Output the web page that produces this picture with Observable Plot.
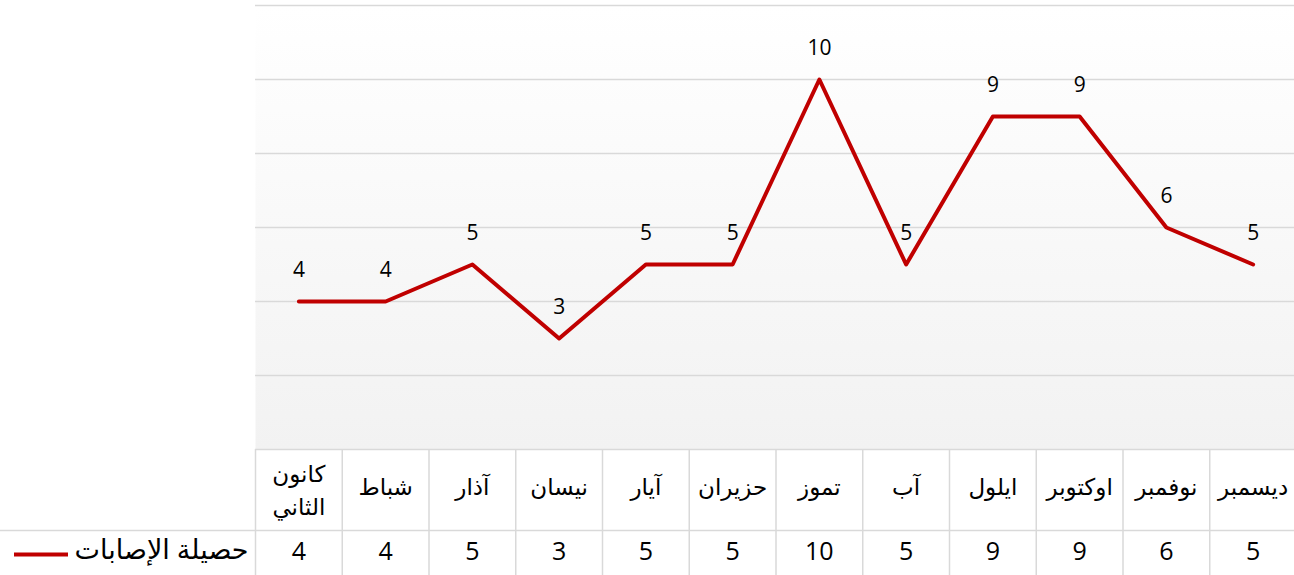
<!DOCTYPE html>
<html>
<head>
<meta charset="utf-8">
<script src="https://cdn.jsdelivr.net/npm/d3@7"></script>
<script src="https://cdn.jsdelivr.net/npm/@observablehq/plot@0.6"></script>
<style>
  html, body { margin: 0; padding: 0; background: #fff; }
  svg { display: block; }
</style>
</head>
<body>
<div id="chart"></div>
<script>
const months = ["كانون الثاني", "شباط", "آذار", "نيسان", "آيار", "حزيران", "تموز", "آب", "ايلول", "اوكتوبر", "نوفمبر", "ديسمبر"];
const values = [4, 4, 5, 3, 5, 5, 10, 5, 9, 9, 6, 5];
const seriesName = "حصيلة الإصابات";
const gridTicks = [0, 2, 4, 6, 8, 10, 12];

const data = months.map((m, i) => ({month: m, value: values[i]}));

const W = 1294, H = 575;
const xRange = [255, 1296];
const bw = (xRange[1] - xRange[0]) / months.length;
const red = "#c00000";
const border = "#d9d9d9";

const chart = Plot.plot({
  width: W,
  height: H,
  marginLeft: 255,
  marginRight: 0,
  marginTop: 5,
  marginBottom: 126,
  style: {fontFamily: "'Open Sans', 'DejaVu Sans', sans-serif", color: "#000", background: "#fff"},
  x: {type: "band", domain: months, range: xRange, padding: 0, round: false, axis: null},
  y: {domain: [0, 12], axis: null},
  marks: [
    Plot.frame({fill: "url(#bgGrad)", stroke: null}),
    Plot.ruleY(gridTicks, {stroke: border, strokeWidth: 1.5}),
    // data table borders
    Plot.ruleX(months, {x: d => d, dx: -bw / 2, insetTop: 444, insetBottom: -126, stroke: border, strokeWidth: 1.5}),
    Plot.ruleY([0], {dy: 81, insetLeft: -255, stroke: border, strokeWidth: 1.5}),
    // series line
    Plot.line(data, {x: "month", y: "value", stroke: red, strokeWidth: 4, strokeLinejoin: "round"}),
    Plot.text(data, {x: "month", y: "value", text: d => String(d.value), dy: -31, fontSize: 21, fill: "#000"}),
    // table text: category row
    Plot.text(months.filter(d => !d.includes(" ")), {x: d => d, frameAnchor: "bottom", dy: 45, fontSize: 23, fill: "#000"}),
    Plot.text(months.filter(d => d.includes(" ")), {x: d => d, text: d => d.replace(" ", "\n"), frameAnchor: "bottom", dy: 65, fontSize: 23, lineHeight: 1.43, fill: "#000"}),
    // table text: value row
    Plot.text(data, {x: "month", text: d => String(d.value), frameAnchor: "bottom", dy: 110, fontSize: 25, fill: "#000"}),
    // legend key in table
    Plot.text([seriesName], {frameAnchor: "bottom-left", dx: -7, dy: 109, textAnchor: "end", fontSize: 27, fill: "#000"}),
    Plot.ruleY([0], {dy: 105, insetLeft: -241, insetRight: 1226, stroke: red, strokeWidth: 4})
  ]
});

d3.select(chart).insert("defs", ":first-child").html(
  '<linearGradient id="bgGrad" x1="0" y1="0" x2="0" y2="1">' +
  '<stop offset="0" stop-color="#ffffff"/>' +
  '<stop offset="1" stop-color="#f2f2f2"/>' +
  '</linearGradient>'
);

document.getElementById("chart").appendChild(chart);
</script>
</body>
</html>
